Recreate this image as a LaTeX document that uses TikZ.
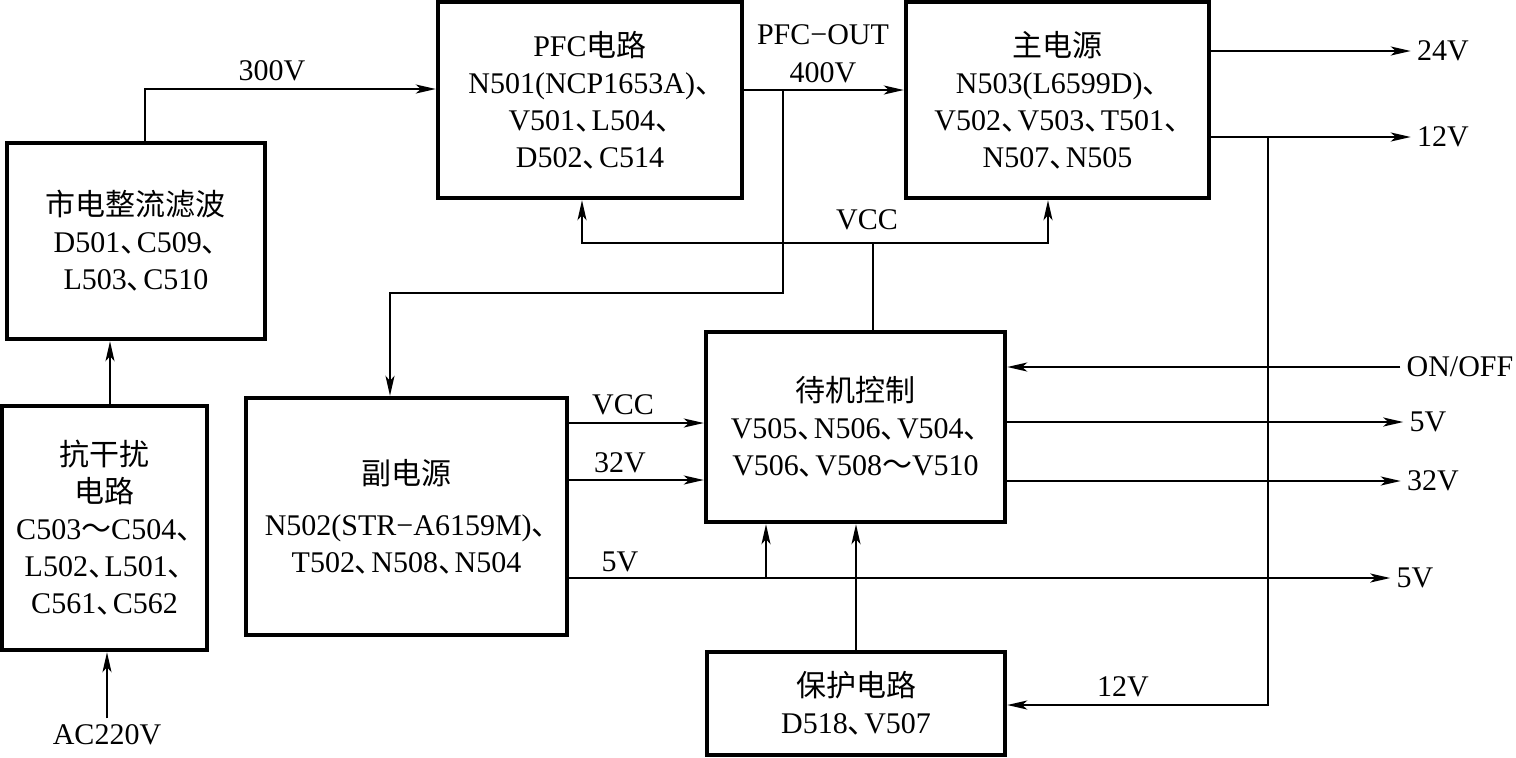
\documentclass[tikz,border=0pt]{standalone}
\usepackage{fontspec}
\setmainfont{Liberation Serif}
\newfontfamily\cjk{Noto Sans CJK SC}
\newcommand{\zh}[1]{{\cjk #1}}
\newcommand{\dun}{{\cjk\makebox[0.55em][l]{、}}}
\usetikzlibrary{arrows.meta}
\begin{document}
\begin{tikzpicture}[x=0.5pt,y=-0.5pt,
  box/.style={draw,line width=2.2pt,inner sep=0pt,align=center,font=\fontsize{15}{18.5}\selectfont},
  lbl/.style={inner sep=3pt,font=\fontsize{15}{19}\selectfont},
  arr/.style={line width=1pt,-{Stealth[length=10pt,width=4.5pt,inset=2.5pt]}},
  ln/.style={line width=1pt}]
\useasboundingbox (0,0) rectangle (1516,757);
% boxes
\node[box,minimum width=129pt,minimum height=98pt] (rect) at (136,241)
  {\zh{市电整流滤波}\\D501\dun C509\dun\\L503\dun C510};
\node[box,minimum width=102.5pt,minimum height=122pt] (emi) at (104.5,528)
  {\zh{抗干扰}\\\zh{电路}\\C503\zh{～}C504\dun\\L502\dun L501\dun\\C561\dun C562};
\node[box,minimum width=152pt,minimum height=98pt] (pfc) at (590,100)
  {PFC\zh{电路}\\N501(NCP1653A)\dun\\V501\dun L504\dun\\D502\dun C514};
\node[box,minimum width=151.5pt,minimum height=98pt] (main) at (1057.5,100)
  {\zh{主电源}\\N503(L6599D)\dun\\V502\dun V503\dun T501\dun\\N507\dun N505};
\node[box,minimum width=160.5pt,minimum height=118.5pt] (aux) at (406.5,516.5)
  {\zh{副电源}\\[7pt]N502(STR\char"2212 A6159M)\dun\\T502\dun N508\dun N504};
\node[box,minimum width=149.5pt,minimum height=95pt] (stby) at (855.5,427)
  {\zh{待机控制}\\V505\dun N506\dun V504\dun\\V506\dun V508\zh{～}V510};
\node[box,minimum width=149pt,minimum height=51.5pt] (prot) at (856,703.5)
  {\zh{保护电路}\\D518\dun V507};
% labels
\node[lbl] (ac) at (107,735) {AC220V};
\node[lbl] (l300) at (272,71) {300V};
\node[lbl,align=center] (lpfc) at (823,54) {PFC\char"2212 OUT\\400V};
\node[lbl] (lvcc) at (867,220) {VCC};
\node[lbl] (o24) at (1443,51) {24V};
\node[lbl] (o12) at (1443,137) {12V};
\node[lbl] (onoff) at (1460,367) {ON/OFF};
\node[lbl] (o5a) at (1428,422) {5V};
\node[lbl] (o32) at (1433,481) {32V};
\node[lbl] (o5b) at (1415,578) {5V};
\node[lbl] (l12p) at (1123,687) {12V};
\node[lbl] (lvcc2) at (623,405) {VCC};
\node[lbl] (l32) at (620,463) {32V};
\node[lbl] (l5) at (620,562) {5V};
% helper coordinates
\coordinate (x110) at (110,0);
\coordinate (j300) at (145,89);
\coordinate (jpfc) at (783,90);
\coordinate (jdn) at (390,293);
\coordinate (jv) at (873,243);
\coordinate (vl) at (582,243);
\coordinate (vr) at (1048,243);
\coordinate (j12) at (1268,137);
\coordinate (j12b) at (1268,705);
\coordinate (yv) at (0,423);
\coordinate (y32) at (0,480);
\coordinate (j5) at (766,578);
% connectors
\draw[arr] (ac.north) -- (emi.south -| ac.north);
\draw[arr] (emi.north -| x110) -- (rect.south -| x110);
\draw[arr] (rect.north -| j300) -- (j300) -- (pfc.west |- j300);
\draw[arr] (pfc.east |- jpfc) -- (main.west |- jpfc);
\draw[arr] (jpfc) -- (jpfc |- jdn) -- (jdn) -- (aux.north -| jdn);
\draw[ln] (stby.north -| jv) -- (jv);
\draw[arr] (jv) -- (vl) -- (pfc.south -| vl);
\draw[arr] (jv) -- (vr) -- (main.south -| vr);
\draw[arr] (main.east |- o24) -- (o24.west);
\draw[arr] (main.east |- o12) -- (o12.west);
\draw[arr] (j12) -- (j12b) -- (prot.east |- j12b);
\draw[arr] (aux.east |- yv) -- (stby.west |- yv);
\draw[arr] (aux.east |- y32) -- (stby.west |- y32);
\draw[arr] (aux.east |- o5b) -- (o5b.west);
\draw[arr] (j5) -- (stby.south -| j5);
\draw[arr] (prot.north) -- (prot.north |- stby.south);
\draw[arr] (onoff.west) -- (stby.east |- onoff);
\draw[arr] (stby.east |- o5a) -- (o5a.west);
\draw[arr] (stby.east |- o32) -- (o32.west);
\end{tikzpicture}
\end{document}
